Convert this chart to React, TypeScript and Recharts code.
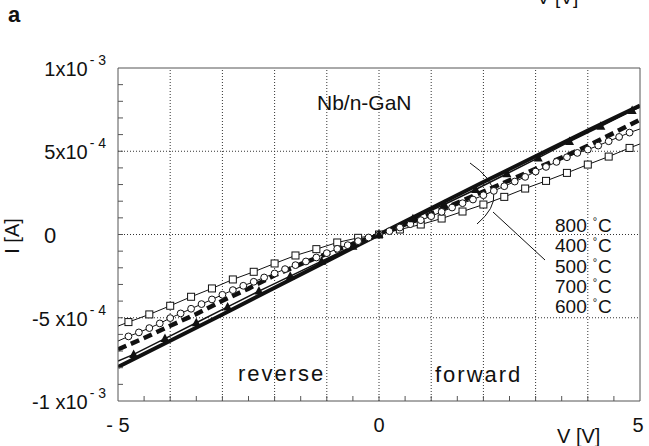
import { LineChart, Line, XAxis, YAxis, ReferenceLine, Customized } from 'recharts';

// V in volts, I in units of 1e-4 A
const V600 = [-5, -4.8, -4.4, -4.0, -3.6, -3.2, -2.8, -2.4, -2.0, -1.6, -1.2, -0.8, -0.4, 0, 0.4, 0.8, 1.2, 1.6, 2.0, 2.4, 2.8, 3.2, 3.6, 4.0, 4.4, 4.8, 5];
const I600 = [-5.5, -5.26, -4.8, -4.28, -3.74, -3.24, -2.7, -2.24, -1.74, -1.26, -0.88, -0.48, -0.2, 0, 0.3, 0.6, 0.96, 1.38, 1.8, 2.26, 2.76, 3.22, 3.7, 4.2, 4.68, 5.2, 5.44];

const V700 = [-5, -4.8, -4.6, -4.4, -4.2, -4.0, -3.8, -3.6, -3.4, -3.2, -3.0, -2.8, -2.6, -2.4, -2.2, -2.0, -1.8, -1.6, -1.4, -1.2, -1.0, -0.8, -0.6, -0.4, -0.2, 0,
  0.2, 0.4, 0.6, 0.8, 1.0, 1.2, 1.4, 1.6, 1.8, 2.0, 2.2, 2.4, 2.6, 2.8, 3.0, 3.2, 3.4, 3.6, 3.8, 4.0, 4.2, 4.4, 4.6, 4.8, 5];
const I700 = [-6.4, -6.12, -5.88, -5.62, -5.34, -5.02, -4.74, -4.46, -4.18, -3.9, -3.62, -3.34, -3.08, -2.84, -2.58, -2.34, -2.08, -1.84, -1.62, -1.38, -1.12, -0.86, -0.64, -0.4, -0.18, 0,
  0.2, 0.42, 0.62, 0.86, 1.1, 1.36, 1.62, 1.88, 2.1, 2.36, 2.62, 2.9, 3.18, 3.46, 3.78, 4.06, 4.36, 4.64, 4.9, 5.1, 5.34, 5.6, 5.86, 6.12, 6.34];

const V500 = [-5, -4.5, -4, -3.5, -3, -2.5, -2, -1.5, -1, -0.5, 0, 0.5, 1, 1.5, 2, 2.5, 3, 3.5, 4, 4.5, 5];
const I500 = [-6.9, -6.22, -5.48, -4.78, -3.98, -3.25, -2.45, -1.78, -1.16, -0.56, 0, 0.6, 1.25, 1.9, 2.58, 3.25, 3.95, 4.62, 5.32, 6.1, 6.9];

const V400 = [-5, -4.7, -4.1, -3.5, -2.9, -2.3, -1.7, -1.1, -0.5, 0, 0.65, 1.25, 1.85, 2.45, 3.05, 3.65, 4.25, 4.85, 5];
const I400 = [-7.6, -7.2, -6.25, -5.3, -4.35, -3.4, -2.5, -1.6, -0.7, 0, 0.95, 1.8, 2.7, 3.65, 4.6, 5.58, 6.5, 7.45, 7.65];

const V800 = [-5, -4, -3, -2, -1, 0, 1, 2, 3, 4, 5];
const I800 = [-7.95, -6.38, -4.8, -3.2, -1.6, 0, 1.58, 3.15, 4.7, 6.25, 7.75];

const X_TICKS = [-5, -4.5, -4, -3.5, -3, -2.5, -2, -1.5, -1, -0.5, 0, 0.5, 1, 1.5, 2, 2.5, 3, 3.5, 4, 4.5, 5];
const X_GRID = [-4, -3, -2, -1, 0, 1, 2, 3, 4];
const X_LABELS: Record<string, string> = { '-5': '- 5', '0': '0', '5': '5' };

const Y_TICKS = [-10, -9, -8, -7, -6, -5, -4, -3, -2, -1, 0, 1, 2, 3, 4, 5, 6, 7, 8, 9, 10];
const Y_GRID = [-5, 0, 5];
const Y_LABELS: Record<string, [string, string]> = {
  '10': ['1x10', '- 3'],
  '5': ['5x10', '- 4'],
  '-5': ['-5 x10', '- 4'],
  '-10': ['-1 x10', '- 3'],
};

const LEGEND = ['800', '400', '500', '700', '600'];

const INK = '#111';
const AXIS = '#555';
const FONT = '"Liberation Sans", Arial, sans-serif';

const rows = (vs: number[], is: number[]) => vs.map((v, i) => ({ V: v, I: is[i] }));
const isEnd = (p: any) => Math.abs(p.payload.V) === 5;

const SquareDot = (p: any) =>
  isEnd(p) ? <g key={`s${p.index}`} /> : (
    <rect key={`s${p.index}`} x={p.cx - 3.5} y={p.cy - 3.5} width={7} height={7} fill="#fff" stroke={INK} strokeWidth={1} />
  );
const CircleDot = (p: any) =>
  isEnd(p) ? <g key={`c${p.index}`} /> : (
    <circle key={`c${p.index}`} cx={p.cx} cy={p.cy} r={3.4} fill="#fff" stroke={INK} strokeWidth={1} />
  );
const TriDot = (p: any) =>
  isEnd(p) ? <g key={`t${p.index}`} /> : (
    <path key={`t${p.index}`} d={`M${p.cx - 4.5},${p.cy + 3.5} L${p.cx + 4.5},${p.cy + 3.5} L${p.cx},${p.cy - 5} Z`} fill={INK} />
  );

const BottomTick = (p: any) => {
  const v = p.payload.value;
  const lab = X_LABELS[String(v)];
  return (
    <g>
      {Math.abs(v) < 5 && <line x1={p.x} x2={p.x} y1={p.y} y2={p.y - 5} stroke={AXIS} />}
      {lab && (
        <text x={v === 5 ? p.x - 2 : p.x} y={p.y + 31} textAnchor="middle" fontSize={20} fontFamily={FONT} fill={INK} style={{ whiteSpace: 'pre' }}>
          {lab}
        </text>
      )}
    </g>
  );
};

const TopTick = (p: any) => {
  const v = p.payload.value;
  return Math.abs(v) < 5 ? <line x1={p.x} x2={p.x} y1={p.y} y2={p.y + 5} stroke={AXIS} /> : <g />;
};

const LeftTick = (p: any) => {
  const v = p.payload.value;
  const lab = Y_LABELS[String(v)];
  return (
    <g>
      {Math.abs(v) < 10 && <line x1={p.x} x2={p.x + 5} y1={p.y} y2={p.y} stroke={AXIS} />}
      {v === 0 && (
        <text x={50} y={p.y + 8} textAnchor="middle" fontSize={22} fontFamily={FONT} fill={INK}>0</text>
      )}
      {lab && (
        <text x={p.x - 12} y={p.y + 8} textAnchor="end" fontSize={20} fontFamily={FONT} fill={INK} style={{ whiteSpace: 'pre' }}>
          {lab[0]}
          <tspan dx={2} dy={-11} fontSize={14}>{lab[1]}</tspan>
        </text>
      )}
    </g>
  );
};

const RightTick = (p: any) => {
  const v = p.payload.value;
  return Math.abs(v) < 10 ? <line x1={p.x} x2={p.x - 5} y1={p.y} y2={p.y} stroke={AXIS} /> : <g />;
};

const Annotations = () => (
  <g fontFamily={FONT} fill={INK} style={{ whiteSpace: 'pre' }}>
    <text x={8} y={22} fontSize={22} fontWeight="bold">a</text>
    <text x={537} y={4} fontSize={19}>V  [V]</text>
    <text x={557} y={443} fontSize={20}>V  [V]</text>
    <text transform="translate(19,236) rotate(-90)" textAnchor="middle" fontSize={20}>I  [A]</text>
    <text x={317} y={110} fontSize={21}>Nb/n-GaN</text>
    <text x={238} y={381} fontSize={22} letterSpacing={2}>reverse</text>
    <text x={435} y={382} fontSize={22} letterSpacing={2}>forward</text>
    {LEGEND.map((t, i) => (
      <text key={t} x={555} y={232 + i * 20.3} fontSize={19}>
        {t}
        <tspan dx={6} dy={-7} fontSize={11}>°</tspan>
        <tspan dx={1} dy={7}>C</tspan>
      </text>
    ))}
    <path d="M 470 163 Q 514 193 477 224" fill="none" stroke={INK} strokeWidth={1} />
    <line x1={493} y1={212} x2={545} y2={260} stroke={INK} strokeWidth={1} />
  </g>
);

export default function App() {
  return (
    <div style={{ position: 'absolute', left: 0, top: 0, background: '#fff' }}>
      <LineChart width={649} height={446} margin={{ top: 0, right: 0, bottom: 0, left: 0 }}>
        <XAxis xAxisId="b" dataKey="V" type="number" domain={[-5, 5]} ticks={X_TICKS} interval={0}
          tickSize={0} tickMargin={0} tick={(p: any) => <BottomTick {...p} />} stroke={AXIS} height={45} allowDataOverflow />
        <XAxis xAxisId="t" orientation="top" type="number" domain={[-5, 5]} ticks={X_TICKS} interval={0}
          tickSize={0} tickMargin={0} tick={(p: any) => <TopTick {...p} />} stroke={AXIS} height={68} />
        <YAxis yAxisId="l" type="number" domain={[-10, 10]} ticks={Y_TICKS} interval={0}
          tickSize={0} tickMargin={0} tick={(p: any) => <LeftTick {...p} />} stroke={AXIS} width={118} allowDataOverflow />
        <YAxis yAxisId="r" orientation="right" type="number" domain={[-10, 10]} ticks={Y_TICKS} interval={0}
          tickSize={0} tickMargin={0} tick={(p: any) => <RightTick {...p} />} stroke={AXIS} width={9} />

        {X_GRID.map((v) => (
          <ReferenceLine key={`gx${v}`} x={v} xAxisId="b" yAxisId="l" stroke="#333" strokeDasharray="1 2" />
        ))}
        {Y_GRID.map((v) => (
          <ReferenceLine key={`gy${v}`} y={v} xAxisId="b" yAxisId="l" stroke="#333" strokeDasharray="1 2" />
        ))}

        <Line data={rows(V600, I600)} dataKey="I" xAxisId="b" yAxisId="l" type="linear" stroke={INK} strokeWidth={1}
          dot={SquareDot} activeDot={false} isAnimationActive={false} />
        <Line data={rows(V700, I700)} dataKey="I" xAxisId="b" yAxisId="l" type="linear" stroke={INK} strokeWidth={1}
          dot={CircleDot} activeDot={false} isAnimationActive={false} />
        <Line data={rows(V500, I500)} dataKey="I" xAxisId="b" yAxisId="l" type="linear" stroke={INK} strokeWidth={4.5}
          strokeDasharray="9 5" dot={false} activeDot={false} isAnimationActive={false} />
        <Line data={rows(V400, I400)} dataKey="I" xAxisId="b" yAxisId="l" type="linear" stroke={INK} strokeWidth={1.5}
          dot={TriDot} activeDot={false} isAnimationActive={false} />
        <Line data={rows(V800, I800)} dataKey="I" xAxisId="b" yAxisId="l" type="linear" stroke={INK} strokeWidth={4}
          dot={false} activeDot={false} isAnimationActive={false} />

        <Customized component={Annotations} />
      </LineChart>
    </div>
  );
}
